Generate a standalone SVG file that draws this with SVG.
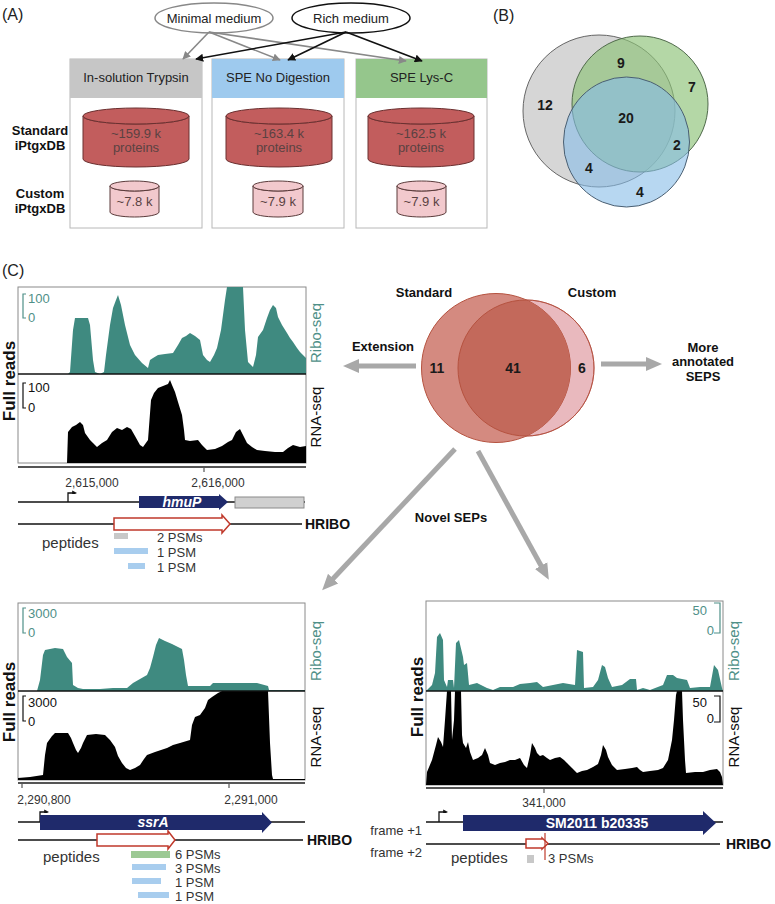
<svg xmlns="http://www.w3.org/2000/svg" width="775" height="904" viewBox="0 0 775 904">
<style>
text{font-family:"Liberation Sans",Arial,sans-serif;}
.lab{font-size:16px;fill:#222;}
.b13{font-size:13px;font-weight:bold;fill:#111;}
.hdr{font-size:13px;fill:#222;text-anchor:middle;}
.cyl{font-size:13px;fill:#5a4242;text-anchor:middle;}
.num{font-size:14px;font-weight:bold;fill:#1a1a1a;text-anchor:middle;}
.box{fill:#fff;stroke:#b8b8b8;stroke-width:1;}
.big{fill:#c25d5d;stroke:#6a3030;stroke-width:1;}
.small{fill:#f2c9cd;stroke:#5a3a3a;stroke-width:1;}
.tl{fill:#fff;stroke:#8a8a8a;stroke-width:1;}
.ribo{fill:#3f8a80;}
.rna{fill:#000;}
.teal{fill:#4f9088;}
.sc{font-size:13px;}
.vt{font-size:15px;text-anchor:middle;}
.fr{font-size:17px;font-weight:bold;text-anchor:middle;fill:#111;}
.tick{font-size:12px;fill:#333;text-anchor:middle;}
.gl{stroke:#111;stroke-width:1.3;fill:none;}
.navy{fill:#1f2a6b;}
.gname{font-size:14px;font-weight:bold;fill:#fff;text-anchor:middle;}
.red{fill:#fff;stroke:#c0392b;stroke-width:1.5;}
.pep{font-size:15px;fill:#333;}
.psm{font-size:13px;fill:#333;}
.hr{font-size:14px;font-weight:bold;fill:#111;}
.blue{fill:#a8cdee;}
.grn{fill:#9cc994;}
.gry{fill:#c8c8c8;}
.ax{stroke:#555;stroke-width:2;}
.ga{stroke:#888;stroke-width:1.6;fill:none;}
.ka{stroke:#111;stroke-width:1.6;fill:none;}
.bg{stroke:#a8a8a8;stroke-width:5;fill:none;}
</style>
<defs>
<marker id="mg" viewBox="0 0 10 10" refX="9" refY="5" markerWidth="5" markerHeight="5" orient="auto"><path d="M0,0 L10,5 L0,10 z" fill="#888"/></marker>
<marker id="mk" viewBox="0 0 10 10" refX="9" refY="5" markerWidth="5" markerHeight="5" orient="auto"><path d="M0,0 L10,5 L0,10 z" fill="#111"/></marker>
<marker id="mb" viewBox="0 0 16 16" refX="6" refY="8" markerWidth="16" markerHeight="16" markerUnits="userSpaceOnUse" orient="auto"><path d="M0,1 L16,8 L0,15 z" fill="#a8a8a8"/></marker>
<marker id="mp" viewBox="0 0 10 10" refX="1" refY="9" markerWidth="8" markerHeight="8" markerUnits="userSpaceOnUse" orient="auto"><path d="M0,6 L6,9 L0,12 z" fill="#111"/></marker>
<clipPath id="cc"><circle cx="526" cy="368" r="68"/></clipPath>
</defs>

<!-- Panel labels -->
<text class="lab" x="2" y="20">(A)</text>
<text class="lab" x="493" y="21">(B)</text>
<text class="lab" x="2" y="276">(C)</text>

<!-- Panel A -->
<g id="minimal-medium">
<ellipse cx="214" cy="18" rx="59" ry="15" fill="#fff" stroke="#888" stroke-width="1.5"/>
<text class="hdr" x="214" y="23">Minimal medium</text>
</g>
<g id="rich-medium">
<ellipse cx="351" cy="18" rx="59" ry="15" fill="#fff" stroke="#111" stroke-width="1.5"/>
<text class="hdr" x="351" y="23">Rich medium</text>
</g>
<g id="label-standard">
<text class="b13" x="40" y="135" text-anchor="middle">Standard</text>
<text class="b13" x="40" y="150" text-anchor="middle">iPtgxDB</text>
</g>
<g id="label-custom">
<text class="b13" x="40" y="198" text-anchor="middle">Custom</text>
<text class="b13" x="40" y="213" text-anchor="middle">iPtgxDB</text>
</g>
<g id="box-trypsin">
<rect class="box" x="70" y="59" width="132" height="169"/>
<rect x="70" y="59" width="132" height="39" fill="#c6c6c6"/>
<text class="hdr" x="136" y="82">In-solution Trypsin</text>
<path class="big" d="M83,116 A53,8 0 0 0 189,116 V159 A53,8 0 0 1 83,159 Z"/>
<ellipse class="big" cx="136" cy="116" rx="53" ry="8"/>
<text class="cyl" x="136" y="138">~159.9 k</text>
<text class="cyl" x="136" y="152">proteins</text>
<path class="small" d="M110,186 A24.5,5 0 0 0 159,186 V212 A24.5,5 0 0 1 110,212 Z"/>
<ellipse class="small" cx="134.5" cy="186" rx="24.5" ry="5"/>
<text class="cyl" x="134.5" y="206">~7.8 k</text>
</g>
<g id="box-nodigestion">
<rect class="box" x="212" y="59" width="132" height="169"/>
<rect x="212" y="59" width="132" height="39" fill="#9ecaee"/>
<text class="hdr" x="278" y="82">SPE No Digestion</text>
<path class="big" d="M226,116 A53,8 0 0 0 332,116 V159 A53,8 0 0 1 226,159 Z"/>
<ellipse class="big" cx="279" cy="116" rx="53" ry="8"/>
<text class="cyl" x="279" y="138">~163.4 k</text>
<text class="cyl" x="279" y="152">proteins</text>
<path class="small" d="M253,186 A25,5 0 0 0 303,186 V212 A25,5 0 0 1 253,212 Z"/>
<ellipse class="small" cx="278" cy="186" rx="25" ry="5"/>
<text class="cyl" x="278" y="206">~7.9 k</text>
</g>
<g id="box-lysc">
<rect class="box" x="356" y="59" width="131" height="169"/>
<rect x="356" y="59" width="131" height="39" fill="#95c68c"/>
<text class="hdr" x="421.5" y="82">SPE Lys-C</text>
<path class="big" d="M368,116 A53,8 0 0 0 474,116 V159 A53,8 0 0 1 368,159 Z"/>
<ellipse class="big" cx="421" cy="116" rx="53" ry="8"/>
<text class="cyl" x="421" y="138">~162.5 k</text>
<text class="cyl" x="421" y="152">proteins</text>
<path class="small" d="M397,186 A24.5,5 0 0 0 446,186 V212 A24.5,5 0 0 1 397,212 Z"/>
<ellipse class="small" cx="421.5" cy="186" rx="24.5" ry="5"/>
<text class="cyl" x="421.5" y="206">~7.9 k</text>
</g>

<!-- Panel B -->
<g id="venn-b">
<circle cx="599" cy="111" r="76" fill="#c8c8c8" fill-opacity="0.75" stroke="#666" stroke-width="1"/>
<circle cx="640" cy="104" r="68" fill="#8cc276" fill-opacity="0.65" stroke="#4f6a4a" stroke-width="1"/>
<ellipse cx="626.5" cy="142" rx="63" ry="65" fill="#87bde8" fill-opacity="0.6" stroke="#4a5f72" stroke-width="1"/>
<text class="num" x="545" y="110">12</text>
<text class="num" x="621" y="68">9</text>
<text class="num" x="692" y="92">7</text>
<text class="num" x="626" y="123">20</text>
<text class="num" x="677" y="150">2</text>
<text class="num" x="589" y="173">4</text>
<text class="num" x="640" y="197">4</text>
</g>

<!-- Panel C center venn -->
<g id="venn-c">
<circle cx="526" cy="368" r="68" fill="#e9b9be" stroke="#c97a7a" stroke-width="1"/>
<circle cx="496" cy="368" r="74.5" fill="#d48a80" stroke="#b5523f" stroke-width="1"/>
<circle cx="496" cy="368" r="74.5" fill="#c3695b" clip-path="url(#cc)"/>
<circle cx="526" cy="368" r="68" fill="none" stroke="#b5523f" stroke-width="1"/>
<text class="b13" x="424" y="297" text-anchor="middle">Standard</text>
<text class="b13" x="592" y="297" text-anchor="middle">Custom</text>
<text class="num" x="437" y="373">11</text>
<text class="num" x="513" y="373">41</text>
<text class="num" x="582" y="373">6</text>
</g>
<g id="label-extension"><text class="b13" x="383" y="351" text-anchor="middle">Extension</text></g>
<g id="label-more">
<text class="b13" x="703" y="352" text-anchor="middle">More</text>
<text class="b13" x="703" y="366" text-anchor="middle">annotated</text>
<text class="b13" x="703" y="381" text-anchor="middle">SEPS</text>
</g>
<g id="label-novel"><text class="b13" x="451" y="522" text-anchor="middle">Novel SEPs</text></g>

<!-- Connectors -->
<g id="connectors">
<line class="ga" x1="209" y1="32" x2="183" y2="59" marker-end="url(#mg)"/>
<line class="ga" x1="209" y1="32" x2="280" y2="60" marker-end="url(#mg)"/>
<line class="ga" x1="209" y1="32" x2="406" y2="61" marker-end="url(#mg)"/>
<line class="ka" x1="346" y1="32" x2="196" y2="59" marker-end="url(#mk)"/>
<line class="ka" x1="346" y1="32" x2="288" y2="60" marker-end="url(#mk)"/>
<line class="ka" x1="346" y1="32" x2="422" y2="61" marker-end="url(#mk)"/>
<line class="bg" x1="416" y1="366" x2="353" y2="366" marker-end="url(#mb)"/>
<line class="bg" x1="601" y1="364" x2="652" y2="364" marker-end="url(#mb)"/>
<line class="bg" x1="455" y1="449" x2="329" y2="583" marker-end="url(#mb)"/>
<line class="bg" x1="478" y1="451" x2="544" y2="571" marker-end="url(#mb)"/>
</g>

<!-- Track hmuP (top left) -->
<g id="track-hmuP">
<rect class="tl" x="18" y="287" width="288" height="176"/>
<path class="ribo" d="M18,374 L68,374 L70,372 L73,330 L75,318 L88,318 L90,325 L93,360 L95,372 L100,374 L104,372 L106,355 L110,325 L113,308 L116,300 L118,295 L121,305 L125,325 L130,345 L135,355 L142,363 L148,368 L150,360 L153,358 L158,355 L165,354 L173,353 L178,345 L182,338 L186,336 L190,333 L195,336 L200,340 L203,355 L207,360 L210,362 L214,355 L217,348 L221,330 L225,300 L227,287 L243,287 L245,330 L248,362 L253,367 L256,355 L258,337 L263,330 L267,318 L270,310 L273,305 L276,308 L278,317 L282,325 L287,333 L290,338 L293,342 L297,348 L300,352 L306,358 L306,374 Z"/>
<path class="rna" d="M18,463 L67,463 L68,432 L72,427 L76,425 L80,422 L83,425 L85,433 L90,440 L97,447 L102,443 L107,440 L112,432 L117,428 L122,430 L127,427 L131,429 L135,436 L140,445 L143,447 L148,440 L151,400 L154,393 L158,388 L163,386 L168,384 L170,380 L172,385 L175,392 L178,402 L182,415 L184,430 L185,440 L190,441 L198,440 L202,445 L207,450 L215,449 L222,446 L228,442 L232,440 L236,432 L240,429 L243,435 L247,443 L252,447 L257,450 L265,451 L275,452 L283,452 L288,448 L293,445 L300,447 L306,446 L306,463 Z"/>
<line x1="18" y1="374" x2="306" y2="374" stroke="#111" stroke-width="1.5"/>
<path d="M26,294 H23 V318 H26" fill="none" stroke="#4f9088" stroke-width="1.2"/>
<text class="sc teal" x="28" y="303">100</text>
<text class="sc teal" x="28" y="322">0</text>
<path d="M26,383 H23 V408 H26" fill="none" stroke="#111" stroke-width="1.2"/>
<text class="sc" x="28" y="392" fill="#111">100</text>
<text class="sc" x="28" y="412" fill="#111">0</text>
<text class="vt teal" transform="translate(321,333) rotate(-90)">Ribo-seq</text>
<text class="vt" fill="#111" transform="translate(321,417) rotate(-90)">RNA-seq</text>
<text class="fr" transform="translate(15,381) rotate(-90)">Full reads</text>
<line class="ax" x1="18" y1="467" x2="306" y2="467"/>
<line x1="204" y1="467" x2="204" y2="472" stroke="#555" stroke-width="1.2"/>
<text class="tick" x="92" y="487">2,615,000</text>
<text class="tick" x="218" y="487">2,616,000</text>
<line class="gl" x1="18" y1="502" x2="305" y2="502"/>
<path d="M68,502 V493 H73" fill="none" stroke="#111" stroke-width="1.3" marker-end="url(#mp)"/>
<path class="navy" d="M139,496 H219 V494 L228,502 L219,510 V508 H139 Z"/>
<text class="gname" x="182" y="507" font-style="italic">hmuP</text>
<rect x="235" y="497" width="69" height="11" fill="#d0d0d0" stroke="#8a8a8a" stroke-width="1"/>
<line class="gl" x1="18" y1="524" x2="302" y2="524"/>
<path class="red" d="M114,518 H222 V515 L230,524 L222,533 V530 H114 Z"/>
<text class="hr" x="305" y="529">HRIBO</text>
<text class="pep" x="42" y="548">peptides</text>
<rect class="gry" x="114" y="533" width="14" height="6"/>
<text class="psm" x="157" y="542">2 PSMs</text>
<rect class="blue" x="114" y="548" width="34" height="6"/>
<text class="psm" x="157" y="557">1 PSM</text>
<rect class="blue" x="128" y="563" width="17" height="6"/>
<text class="psm" x="157" y="572">1 PSM</text>
</g>

<!-- Track ssrA (bottom left) -->
<g id="track-ssrA">
<rect class="tl" x="18" y="603" width="287" height="177"/>
<path class="ribo" d="M18,691 L37,691 L40,680 L43,655 L45,650 L55,648 L63,649 L67,657 L72,663 L73,685 L78,688 L83,689 L100,689 L113,688 L127,688 L133,683 L140,679 L147,675 L150,668 L153,657 L156,645 L159,638 L165,641 L172,644 L182,649 L184,660 L186,675 L188,686 L210,686 L213,683 L257,683 L268,686 L269,690 L305,690 L305,691 Z"/>
<path class="rna" d="M18,780 L18,778 L30,777 L43,775 L45,755 L47,743 L52,736 L55,733 L68,733 L71,738 L73,743 L76,750 L78,753 L81,748 L83,743 L87,735 L96,734 L105,735 L110,740 L115,747 L118,756 L122,763 L126,768 L130,770 L135,768 L140,765 L144,759 L147,755 L155,752 L167,748 L173,745 L180,743 L190,740 L192,725 L195,717 L200,715 L205,708 L208,700 L212,697 L218,693 L222,691 L268,691 L270,743 L272,775 L273,779 L305,779 L305,780 Z"/>
<line x1="18" y1="691" x2="305" y2="691" stroke="#111" stroke-width="1.5"/>
<path d="M26,608 H23 V633 H26" fill="none" stroke="#4f9088" stroke-width="1.2"/>
<text class="sc teal" x="28" y="618">3000</text>
<text class="sc teal" x="28" y="637">0</text>
<path d="M26,696 H23 V721 H26" fill="none" stroke="#111" stroke-width="1.2"/>
<text class="sc" x="28" y="707" fill="#111">3000</text>
<text class="sc" x="28" y="726" fill="#111">0</text>
<text class="vt teal" transform="translate(321,651) rotate(-90)">Ribo-seq</text>
<text class="vt" fill="#111" transform="translate(321,737) rotate(-90)">RNA-seq</text>
<text class="fr" transform="translate(15,702) rotate(-90)">Full reads</text>
<line class="ax" x1="18" y1="783" x2="305" y2="783"/>
<line x1="22" y1="783" x2="22" y2="788" stroke="#555" stroke-width="1.2"/>
<line x1="229" y1="783" x2="229" y2="788" stroke="#555" stroke-width="1.2"/>
<text class="tick" x="44" y="804">2,290,800</text>
<text class="tick" x="251" y="804">2,291,000</text>
<line class="gl" x1="18" y1="822" x2="305" y2="822"/>
<path d="M40,822 V812 H45" fill="none" stroke="#111" stroke-width="1.3" marker-end="url(#mp)"/>
<path class="navy" d="M40,815 H262 V812 L272,822.5 L262,833 V830 H40 Z"/>
<text class="gname" x="153" y="827" font-style="italic">ssrA</text>
<line class="gl" x1="18" y1="840" x2="303" y2="840"/>
<path class="red" d="M97,834 H168 V831 L175,840 L168,849 V846 H97 Z"/>
<text class="hr" x="307" y="845">HRIBO</text>
<text class="pep" x="43" y="862">peptides</text>
<rect class="grn" x="131" y="851" width="39" height="7"/>
<text class="psm" x="175" y="859">6 PSMs</text>
<rect class="blue" x="132" y="864" width="34" height="6"/>
<text class="psm" x="175" y="873">3 PSMs</text>
<rect class="blue" x="132" y="878" width="29" height="6"/>
<text class="psm" x="175" y="887">1 PSM</text>
<rect class="blue" x="138" y="892" width="31" height="6"/>
<text class="psm" x="175" y="901">1 PSM</text>
</g>

<!-- Track SM2011_b20335 (bottom right) -->
<g id="track-b20335">
<rect class="tl" x="426" y="601" width="297" height="184"/>
<path class="ribo" d="M426,691 L427,690 L432,685 L435,673 L437,637 L440,633 L443,640 L444,680 L447,687 L448,680 L453,680 L454,688 L456,643 L459,640 L463,657 L464,665 L467,663 L469,685 L477,683 L487,688 L493,690 L500,687 L513,687 L520,684 L530,683 L537,682 L543,687 L553,685 L563,683 L575,685 L577,650 L583,652 L584,688 L593,687 L598,680 L602,665 L605,667 L608,678 L612,687 L622,685 L630,679 L636,679 L637,690 L643,688 L650,690 L663,685 L667,675 L673,675 L677,678 L687,680 L690,688 L700,687 L710,687 L714,665 L718,670 L722,688 L723,691 Z"/>
<path class="rna" d="M426,785 L427,772 L432,760 L436,745 L438,737 L441,742 L443,747 L445,720 L447,691 L451,691 L452,740 L454,720 L455,691 L461,691 L462,735 L463,743 L466,748 L468,742 L470,752 L473,760 L478,758 L482,755 L485,748 L488,755 L490,763 L495,765 L500,763 L505,762 L510,760 L515,760 L520,758 L524,765 L527,768 L530,755 L532,743 L535,748 L537,753 L540,756 L543,755 L547,758 L550,760 L555,758 L560,757 L564,760 L567,763 L572,768 L577,773 L582,771 L587,770 L593,767 L598,764 L601,755 L603,745 L606,750 L608,757 L612,765 L617,770 L625,769 L632,768 L637,767 L640,770 L643,772 L650,771 L658,770 L663,768 L668,760 L672,740 L674,720 L676,695 L677,691 L682,691 L683,720 L685,760 L686,773 L695,772 L703,772 L710,770 L717,769 L720,772 L722,777 L723,785 Z"/>
<line x1="426" y1="691" x2="723" y2="691" stroke="#111" stroke-width="1.5"/>
<path d="M714,603 H720 V633 H714" fill="none" stroke="#4f9088" stroke-width="1.2"/>
<text class="sc teal" x="707" y="615" text-anchor="end">50</text>
<text class="sc teal" x="714" y="635" text-anchor="end">0</text>
<path d="M714,696 H720 V722 H714" fill="none" stroke="#111" stroke-width="1.2"/>
<text class="sc" x="707" y="707" fill="#111" text-anchor="end">50</text>
<text class="sc" x="714" y="723" fill="#111" text-anchor="end">0</text>
<text class="vt teal" transform="translate(739,651) rotate(-90)">Ribo-seq</text>
<text class="vt" fill="#111" transform="translate(739,737) rotate(-90)">RNA-seq</text>
<text class="fr" transform="translate(423,697) rotate(-90)">Full reads</text>
<line class="ax" x1="426" y1="788" x2="723" y2="788"/>
<line x1="544" y1="788" x2="544" y2="793" stroke="#555" stroke-width="1.2"/>
<text class="tick" x="544" y="807">341,000</text>
<text class="psm" x="422" y="835" text-anchor="end" font-size="14">frame +1</text>
<text class="psm" x="422" y="857" text-anchor="end" font-size="14">frame +2</text>
<line class="gl" x1="426" y1="822" x2="723" y2="822"/>
<path d="M439,822 V812 H444" fill="none" stroke="#111" stroke-width="1.3" marker-end="url(#mp)"/>
<path class="navy" d="M463,815 H703 V811 L716,823 L703,835 V831 H463 Z"/>
<text class="gname" x="597" y="828">SM2011 b20335</text>
<line class="gl" x1="426" y1="844" x2="720" y2="844"/>
<path class="red" d="M526,839 H542 V838 L548,843.5 L542,849 V848 H526 Z"/>
<line x1="545" y1="833" x2="545" y2="860" stroke="#c0392b" stroke-width="1.2"/>
<text class="hr" x="726" y="849">HRIBO</text>
<text class="pep" x="451" y="863">peptides</text>
<rect class="gry" x="527" y="855" width="7" height="8"/>
<text class="psm" x="548" y="863">3 PSMs</text>
</g>
</svg>
